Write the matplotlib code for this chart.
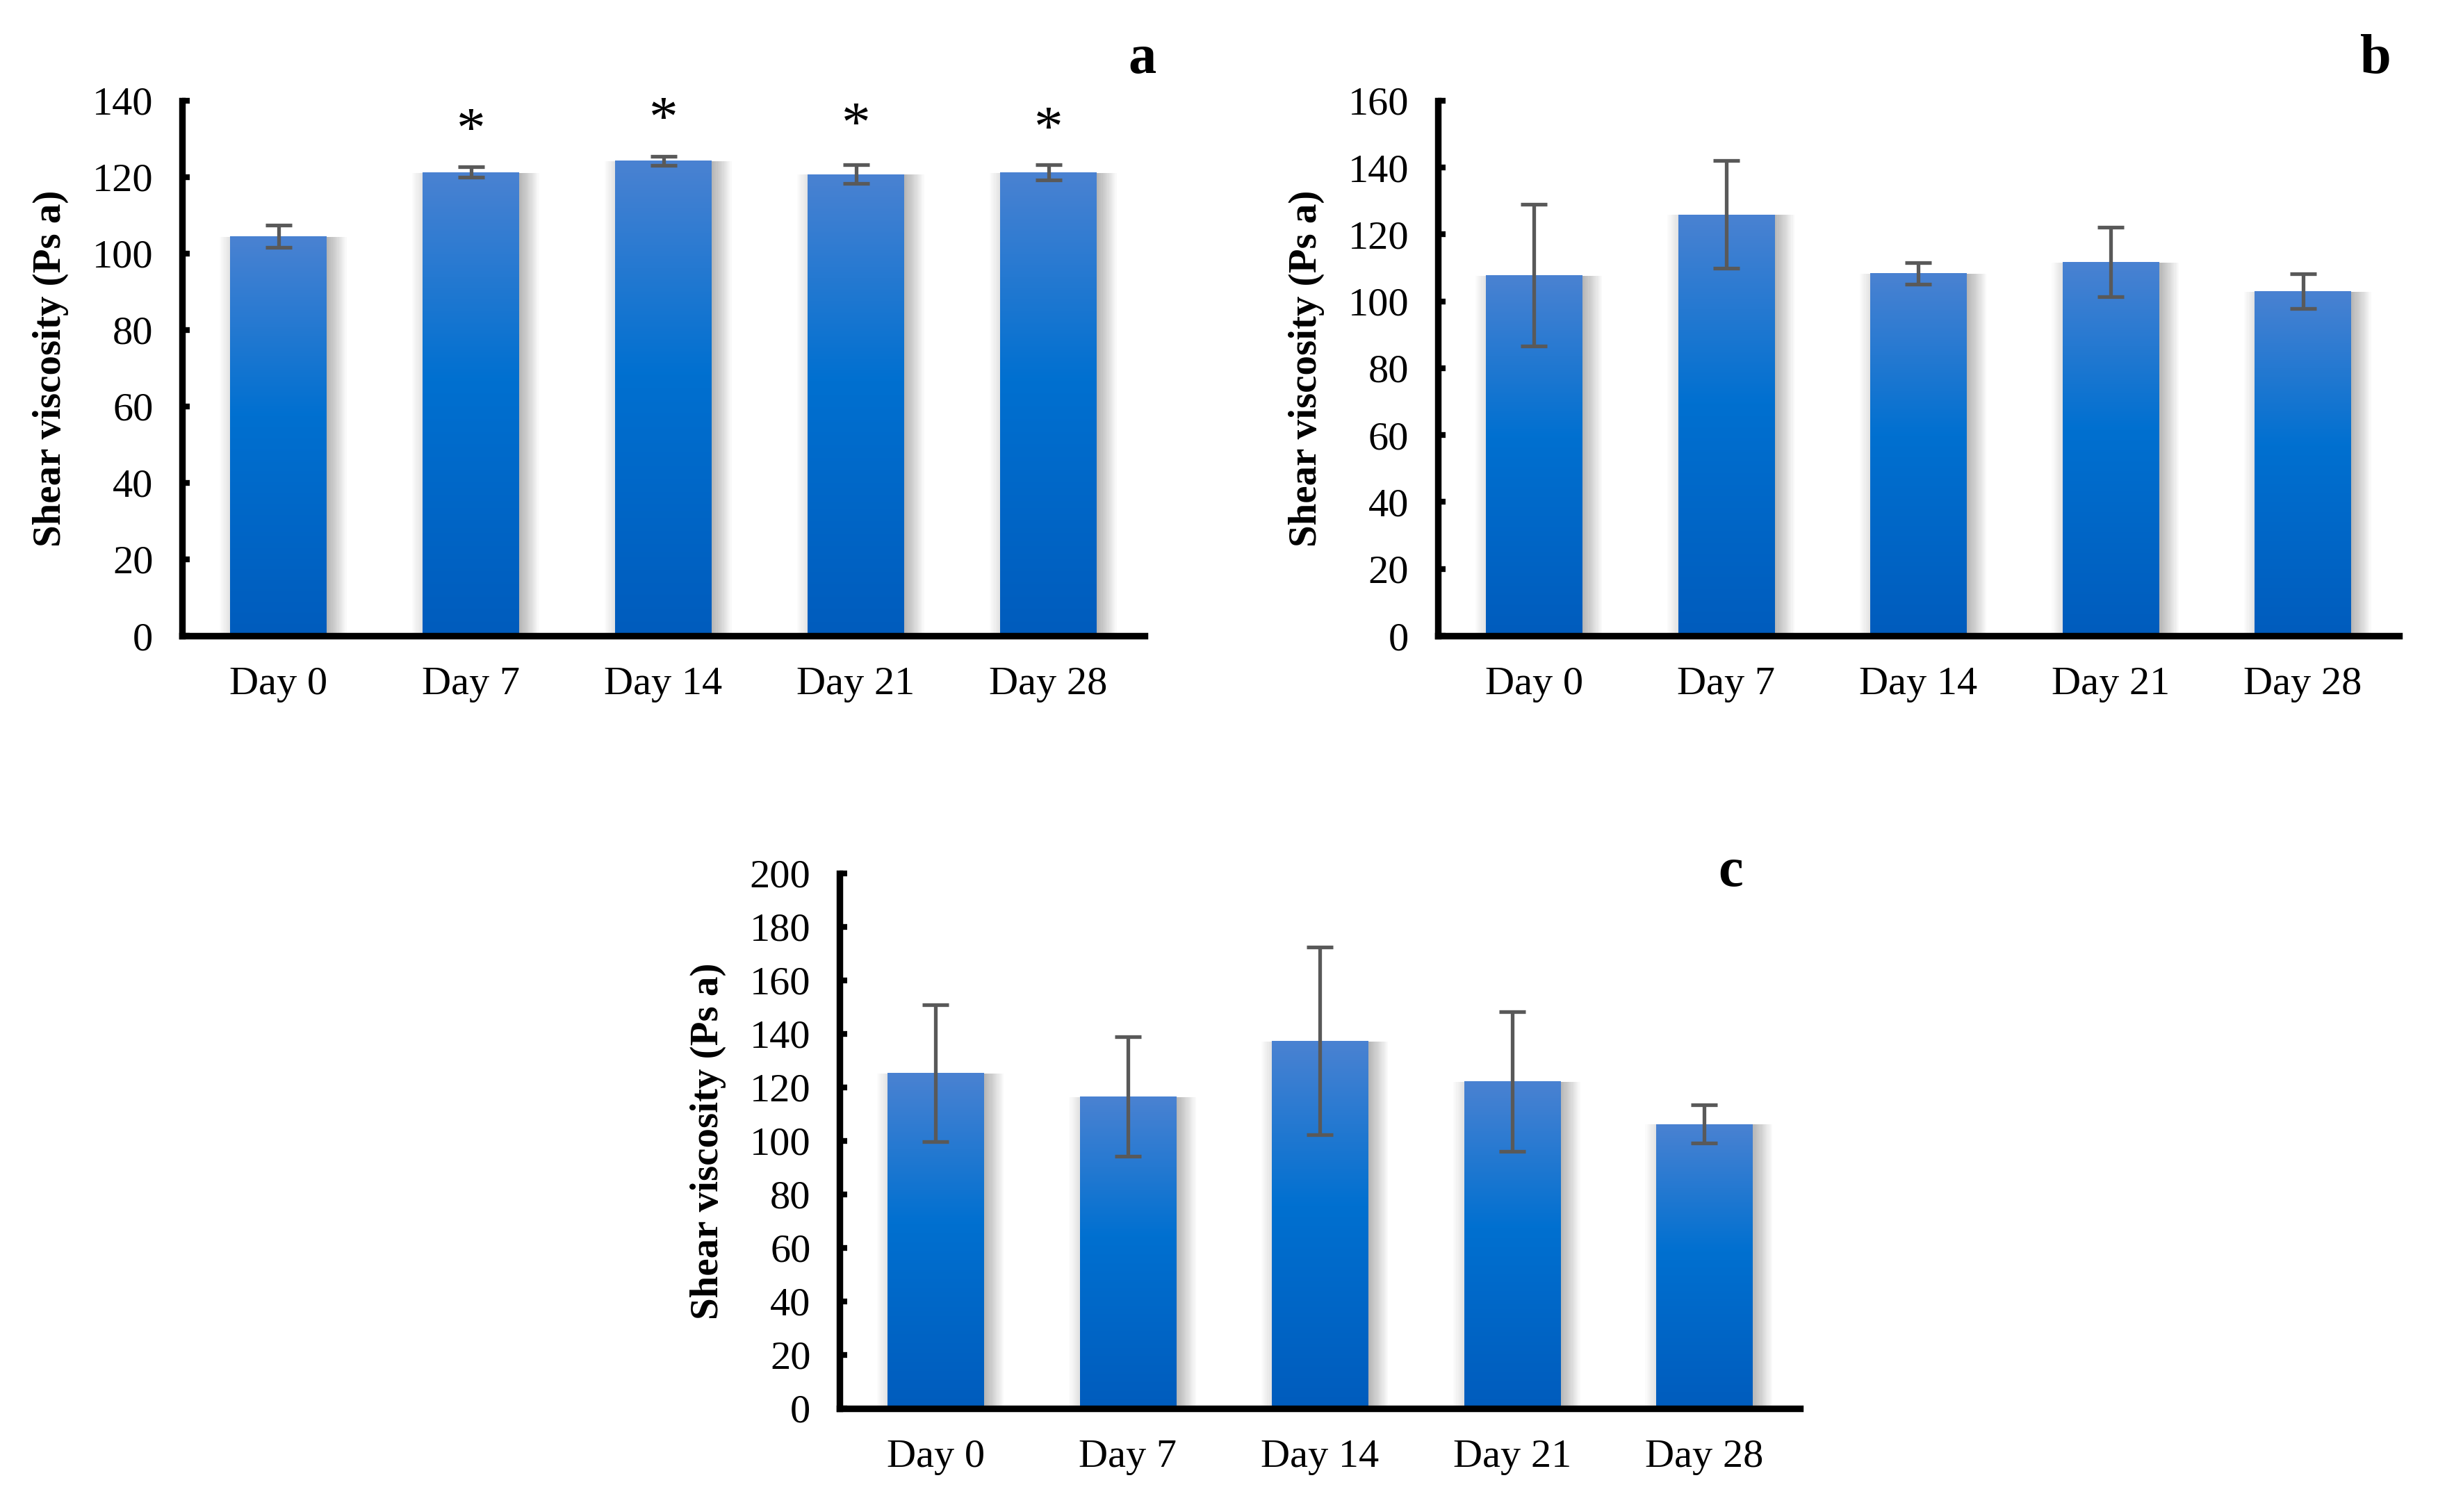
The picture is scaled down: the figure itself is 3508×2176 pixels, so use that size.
import numpy as np
import matplotlib.pyplot as plt
from matplotlib import patheffects as pe
from matplotlib.colors import LinearSegmentedColormap

plt.rcParams['font.family'] = ['Liberation Serif', 'DejaVu Serif']

days = ['Day 0', 'Day 7', 'Day 14', 'Day 21', 'Day 28']

# panel a
visc_a = [104.5, 121.3, 124.3, 120.8, 121.3]
err_a = [2.9, 1.4, 1.2, 2.5, 2.0]
star_a = [None, 131.5, 134.4, 133.1, 131.9]

# panel b
visc_b = [107.8, 126.0, 108.4, 111.8, 103.1]
err_b = [21.2, 16.1, 3.2, 10.4, 5.2]

# panel c
visc_c = [125.4, 116.6, 137.3, 122.2, 106.3]
err_c = [25.6, 22.3, 35.1, 26.0, 7.2]

bar_cmap = LinearSegmentedColormap.from_list(
    'excel_blue', [(0.0, '#005cbd'), (0.55, '#0070d0'), (1.0, '#4a82d2')])
grad = np.linspace(0, 1, 256).reshape(-1, 1)


def draw_panel(ax, vals, errs, ymax, step, letter, letter_xy, stars=None):
    x = np.arange(len(days))
    # soft shadow built from many faint offsets
    shadow = [pe.SimplePatchShadow(offset=(d * 0.8, -0.3), shadow_rgbFace='k', alpha=0.022)
              for d in range(1, 14)]
    shadow += [pe.SimplePatchShadow(offset=(-d * 0.8, -0.3), shadow_rgbFace='k', alpha=0.015)
               for d in range(1, 8)]
    bars = ax.bar(x, vals, width=0.5, color='#0070d0', zorder=2,
                  path_effects=shadow + [pe.Normal()])
    for b in bars:
        x0, y0 = b.get_x(), b.get_y()
        im = ax.imshow(grad, extent=[x0, x0 + b.get_width(), y0, y0 + b.get_height()],
                       origin='lower', aspect='auto', cmap=bar_cmap, zorder=2.5,
                       interpolation='bilinear')
        im.set_clip_path(b)
    ax.errorbar(x, vals, yerr=errs, fmt='none', ecolor='#595959', elinewidth=1.9,
                capsize=7, capthick=1.9, zorder=3)
    if stars:
        for xi, s in zip(x, stars):
            if s is not None:
                ax.text(xi, s, '*', ha='center', va='center', fontsize=30, zorder=4)

    ax.set_xlim(-0.5, len(days) - 0.5)
    ax.set_ylim(0, ymax)
    ax.set_yticks(np.arange(0, ymax + 1, step))
    ax.set_xticks(x)
    ax.set_xticklabels(days)
    for side in ['top', 'right']:
        ax.spines[side].set_visible(False)
    for side in ['left', 'bottom']:
        ax.spines[side].set_linewidth(3.4)
        ax.spines[side].set_capstyle('projecting')
    ax.tick_params(axis='x', length=0, pad=16, labelsize=21)
    ax.tick_params(axis='y', direction='in', length=4, width=3, pad=15, labelsize=21)
    ax.set_ylabel('Shear viscosity (Ps a)', fontsize=20.5, fontweight='bold')
    ax.yaxis.set_label_coords(-0.118, 0.5)
    ax.figure.text(letter_xy[0], letter_xy[1], letter, fontsize=29, fontweight='bold',
                   ha='center', va='center')


fig = plt.figure(figsize=(17.54, 10.88), dpi=200)
ax_a = fig.add_axes([0.0747, 0.5795, 0.3948, 0.3539])
ax_b = fig.add_axes([0.5898, 0.5795, 0.3942, 0.3539])
ax_c = fig.add_axes([0.3444, 0.0685, 0.3940, 0.3539])

draw_panel(ax_a, visc_a, err_a, 140, 20, 'a', (1643 / 3508, 1 - 86 / 2176), star_a)
draw_panel(ax_b, visc_b, err_b, 160, 20, 'b', (3418 / 3508, 1 - 86 / 2176))
draw_panel(ax_c, visc_c, err_c, 200, 20, 'c', (2490 / 3508, 1 - 1255 / 2176))

fig.savefig('out.png', dpi=200)
